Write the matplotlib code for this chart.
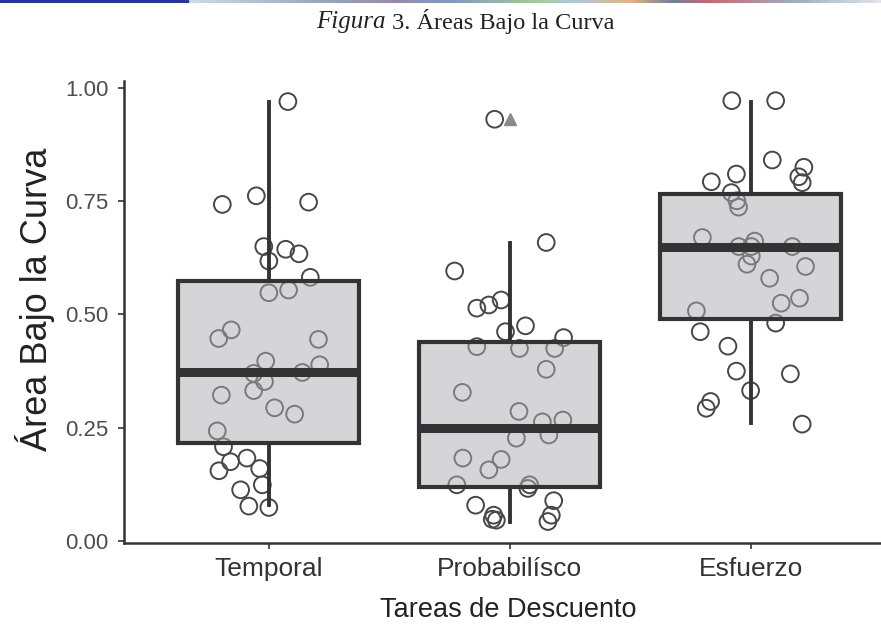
import matplotlib
matplotlib.use("Agg")
import matplotlib.pyplot as plt
from matplotlib.colors import LinearSegmentedColormap
import numpy as np

# categories and box statistics
tareas = ["Temporal", "Probabilísco", "Esfuerzo"]
q1 = [0.216, 0.120, 0.489]
mediana = [0.373, 0.249, 0.650]
q3 = [0.574, 0.440, 0.765]
bigote_bajo = [0.079, 0.043, 0.260]
bigote_alto = [0.969, 0.658, 0.968]
atipicos = [[], [0.932], []]

# jittered points (horizontal offset, value)
temporal_dx = [0.080, -0.192, -0.051, 0.166, -0.020, 0.001, 0.071, 0.126, 0.173, 0.001,
               0.083, -0.207, -0.155, 0.207, -0.012, 0.212, 0.140, -0.062, -0.017, -0.062,
               -0.196, 0.025, 0.108, -0.213, -0.187, -0.158, -0.090, -0.206, -0.037, -0.026,
               -0.116, -0.082, 0.001]
temporal_y = [0.970, 0.743, 0.762, 0.748, 0.650, 0.618, 0.644, 0.634, 0.582, 0.548,
              0.554, 0.447, 0.466, 0.445, 0.397, 0.389, 0.372, 0.370, 0.352, 0.332,
              0.322, 0.294, 0.280, 0.243, 0.208, 0.175, 0.183, 0.155, 0.160, 0.124,
              0.113, 0.077, 0.074]

prob_dx = [-0.062, 0.152, -0.228, -0.136, -0.086, -0.035, -0.017, 0.066, 0.224, -0.136,
           0.041, 0.187, 0.152, -0.196, 0.039, 0.136, 0.221, 0.028, 0.163, -0.194,
           -0.035, -0.086, -0.219, 0.083, 0.076, -0.141, 0.183, -0.066, -0.055, 0.173,
           0.159, -0.072]
prob_y = [0.931, 0.659, 0.596, 0.514, 0.521, 0.532, 0.462, 0.475, 0.449, 0.429,
          0.425, 0.425, 0.379, 0.328, 0.286, 0.263, 0.267, 0.227, 0.234, 0.183,
          0.180, 0.157, 0.124, 0.124, 0.116, 0.079, 0.089, 0.057, 0.046, 0.057,
          0.043, 0.048]

esf_dx = [-0.078, 0.104, 0.090, -0.059, 0.221, 0.200, 0.214, -0.163, -0.080, -0.057,
          -0.050, -0.200, 0.017, -0.049, 0.003, 0.173, 0.003, -0.015, 0.228, 0.079,
          0.203, 0.127, -0.225, 0.104, -0.209, -0.094, -0.059, 0.165, 0.000, -0.166,
          -0.184, 0.214]
esf_y = [0.972, 0.972, 0.841, 0.810, 0.825, 0.804, 0.791, 0.793, 0.769, 0.751,
         0.737, 0.670, 0.662, 0.650, 0.650, 0.650, 0.629, 0.611, 0.606, 0.580,
         0.536, 0.525, 0.508, 0.481, 0.462, 0.430, 0.375, 0.369, 0.332, 0.308,
         0.293, 0.258]

puntos_dx = [temporal_dx, prob_dx, esf_dx]
puntos_y = [temporal_y, prob_y, esf_y]

fig = plt.figure(figsize=(8.81, 6.24), dpi=100)
ax = fig.add_axes([124 / 881, (624 - 542.8) / 624, 1 - 124 / 881, 461.6 / 624])

# jittered points
for i in range(3):
    xs = [i + 1 + d for d in puntos_dx[i]]
    ax.scatter(xs, puntos_y[i], s=145, facecolors="none", edgecolors="#474747",
               linewidths=1.4, zorder=2)

# boxes
stats = []
for i in range(3):
    stats.append({"med": mediana[i], "q1": q1[i], "q3": q3[i],
                  "whislo": bigote_bajo[i], "whishi": bigote_alto[i],
                  "fliers": atipicos[i]})
ax.bxp(stats, positions=[1, 2, 3], widths=0.75, patch_artist=True, showcaps=False,
       boxprops=dict(facecolor=(0.68, 0.68, 0.69, 0.5), edgecolor="#333333", linewidth=3),
       medianprops=dict(color="#333333", linewidth=6.5, solid_capstyle="butt"),
       whiskerprops=dict(color="#333333", linewidth=2.8),
       flierprops=dict(marker="^", markerfacecolor="#8a8a8a", markeredgecolor="#8a8a8a",
                       markersize=9),
       zorder=3)

ax.set_xlim(0.4, 0.4 + 757 / 241)
ax.set_ylim(-0.004, 1.015)
ax.set_yticks([0, 0.25, 0.5, 0.75, 1.0])
ax.set_yticklabels(["0.00", "0.25", "0.50", "0.75", "1.00"])
ax.set_xticks([1, 2, 3])
ax.set_xticklabels(tareas)

for s in ["top", "right"]:
    ax.spines[s].set_visible(False)
for s in ["left", "bottom"]:
    ax.spines[s].set_color("#333333")
    ax.spines[s].set_linewidth(1.8)

ax.tick_params(axis="y", labelsize=16, colors="#333333", labelcolor="#4d4d4d",
               length=4, width=1.2, pad=7)
ax.tick_params(axis="x", labelsize=19, colors="#333333", labelcolor="#333333",
               length=4, width=1.2, pad=6)
for lab in ax.get_xticklabels() + ax.get_yticklabels():
    lab.set_family("Liberation Sans")

ax.set_xlabel("Tareas de Descuento", fontsize=19.5, family="Liberation Sans",
              color="#222222")
ax.xaxis.set_label_coords(0.507, -0.117)
ax.xaxis.label.set_va("top")
ax.set_ylabel("Área Bajo la Curva", fontsize=26, family="Liberation Sans",
              color="#222222")
ax.yaxis.set_label_coords(-0.1176, 0.528)
ax.yaxis.label.set_va("center")

# title, italic "Figura" then the rest
ty = 1 - 22 / 624
fig.text(386 / 881, ty, "Figura", fontsize=18, family="Liberation Serif",
         style="italic", ha="right", va="center", color="#222222")
fig.text(386 / 881, ty, " 3. Áreas Bajo la Curva", fontsize=17.5,
         family="Liberation Serif", ha="left", va="center", color="#222222")

# page decoration strip at the top
strip = fig.add_axes([0, 1 - 3 / 624, 1, 3 / 624])
strip.axis("off")
strip.add_patch(plt.Rectangle((0, 0), 188 / 881, 1, color="#2430c0", transform=strip.transAxes))
paleta = LinearSegmentedColormap.from_list("franja", [
    (0.0, "#c8dcec"), (0.2, "#8fa6c4"), (0.3, "#9a86b8"), (0.38, "#7a9ad0"),
    (0.5, "#9fcf8a"), (0.56, "#a8cce0"), (0.64, "#f0b070"), (0.7, "#6f7fa0"),
    (0.76, "#e06070"), (0.88, "#9ab0c8"), (1.0, "#dfe4ea")])
grad = np.linspace(0, 1, 300)[np.newaxis, :]
strip.imshow(grad, cmap=paleta, aspect="auto", extent=[188 / 881, 1, 0, 1])
strip.set_xlim(0, 1)
strip.set_ylim(0, 1)

fig.savefig("out.png", dpi=100)
